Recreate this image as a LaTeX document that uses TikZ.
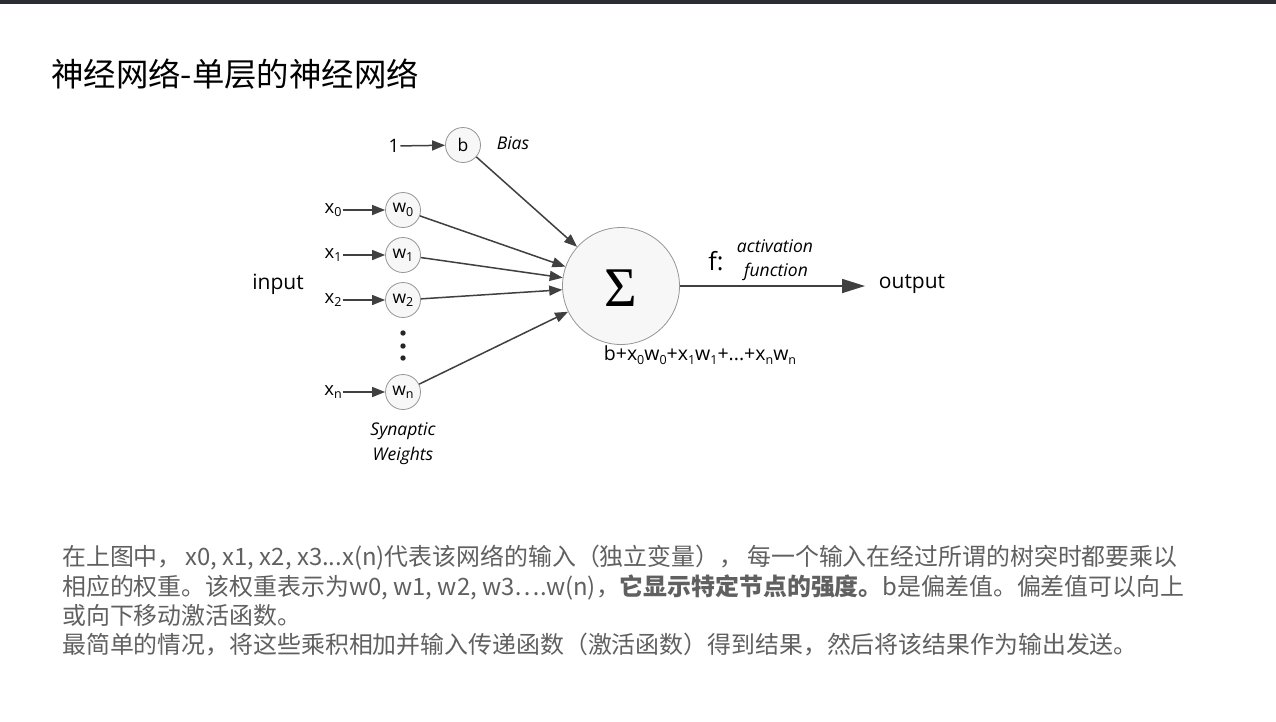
\documentclass[tikz,border=0pt]{standalone}
\usepackage{fontspec}
\setmainfont{Open Sans}
\newfontfamily\cjk{Noto Sans CJK SC}
\newfontfamily\sigmafont{Liberation Serif}
\usetikzlibrary{arrows.meta}
\definecolor{barcol}{RGB}{43,45,48}
\definecolor{edgecol}{RGB}{64,64,64}
\definecolor{ringcol}{RGB}{150,150,150}
\definecolor{fillcol}{RGB}{247,247,247}
\definecolor{textgray}{RGB}{96,96,96}
\newcommand{\lowidx}[1]{\raisebox{-0.35ex}{\fontsize{12.5}{13}\selectfont #1}}
\begin{document}
\begin{tikzpicture}[x=1pt,y=-1pt,
  weight/.style={circle,draw=ringcol,fill=fillcol,line width=0.8pt,minimum size=35pt,inner sep=0pt,font=\fontsize{17.5}{19}\selectfont},
  lbl/.style={font=\fontsize{18.5}{20}\selectfont,inner sep=1pt},
  itlbl/.style={font=\itshape\fontsize{17.5}{20}\selectfont,inner sep=0pt},
  arr/.style={draw=edgecol,line width=1.5pt,-{Triangle[length=13pt,width=10pt]}},
  bigarr/.style={draw=edgecol,line width=1.7pt,-{Triangle[length=23pt,width=14pt]}},
  para/.style={anchor=west,inner sep=0pt,text=textgray,font=\cjk\fontsize{23.9}{28}\selectfont}]
\useasboundingbox (0,0) rectangle (1276,721);
\fill[white] (0,0) rectangle (1276,721);
\fill[barcol] (0,0) rectangle (1276,4);

% heading
\node[anchor=west,inner sep=0pt,font=\cjk\fontsize{32.4}{38}\selectfont] (title) at (51,74) {神经网络-单层的神经网络};

% bias input
\node[lbl] (one) at (394,146) {1};
\node[weight] (b) at (463,145) {b};
\node[itlbl] (bias) at (513,143) {Bias};

% inputs and synaptic weights
\node[lbl] (x0) at (333,210) {x\lowidx{0}};
\node[lbl] (x1) at (333,255) {x\lowidx{1}};
\node[lbl] (x2) at (333,300) {x\lowidx{2}};
\node[lbl] (xn) at (333,392) {x\lowidx{n}};
\node[weight] (w0) at (403,210) {w\lowidx{0}};
\node[weight] (w1) at (403,255) {w\lowidx{1}};
\node[weight] (w2) at (403,300) {w\lowidx{2}};
\node[weight] (wn) at (403,392) {w\lowidx{n}};
\foreach \yy in {333,346,358} \fill[black!85] (403,\yy) circle (2.7);
\node[font=\fontsize{21}{24}\selectfont] (input) at (278,284) {input};
\node[itlbl] (syn) at (403,431) {Synaptic};
\node[itlbl] (wts) at (403,456) {Weights};

% summing unit
\node[circle,draw=ringcol,fill=fillcol,line width=0.8pt,minimum size=117pt,inner sep=0pt] (sum) at (621,286) {};
\node[font=\sigmafont\fontsize{56}{60}\selectfont,inner sep=0pt] (sigma) at (621,288) {Σ};
\node[font=\fontsize{19.5}{22}\selectfont,inner sep=0pt] (formula) at (700,355) {b+x\lowidx{0}w\lowidx{0}+x\lowidx{1}w\lowidx{1}+...+x\lowidx{n}w\lowidx{n}};

% activation and output
\node[font=\fontsize{25}{28}\selectfont,inner sep=0pt] (f) at (716,261) {f:};
\node[itlbl] (act) at (775,246) {activation};
\node[itlbl] (fun) at (776,272) {function};
\node[font=\fontsize{21}{24}\selectfont,inner sep=0pt] (out) at (912,284) {output};
\coordinate (outtip) at (865,286);

% connectors
\draw[arr] (one) -- (b);
\draw[arr] (x0) -- (w0);
\draw[arr] (x1) -- (w1);
\draw[arr] (x2) -- (w2);
\draw[arr] (xn) -- (wn);
\draw[arr] (b) -- (sum);
\draw[arr] (w0) -- (sum);
\draw[arr] (w1) -- (sum);
\draw[arr] (w2) -- (sum);
\draw[arr] (wn) -- (sum);
\draw[bigarr] (sum.east) -- (outtip);

% explanation
\node[para] (p1) at (62,558) {在上图中，\,x0, x1, x2, x3...x(n)代表该网络的输入（独立变量），\,每一个输入在经过所谓的树突时都要乘以};
\node[para] (p2) at (62,587) {相应的权重。该权重表示为w0, w1, w2, w3….w(n)，\textbf{它显示特定节点的强度。}b是偏差值。偏差值可以向上};
\node[para] (p3) at (62,615) {或向下移动激活函数。};
\node[para] (p4) at (62,645) {最简单的情况，将这些乘积相加并输入传递函数（激活函数）得到结果，然后将该结果作为输出发送。};
\end{tikzpicture}
\end{document}
